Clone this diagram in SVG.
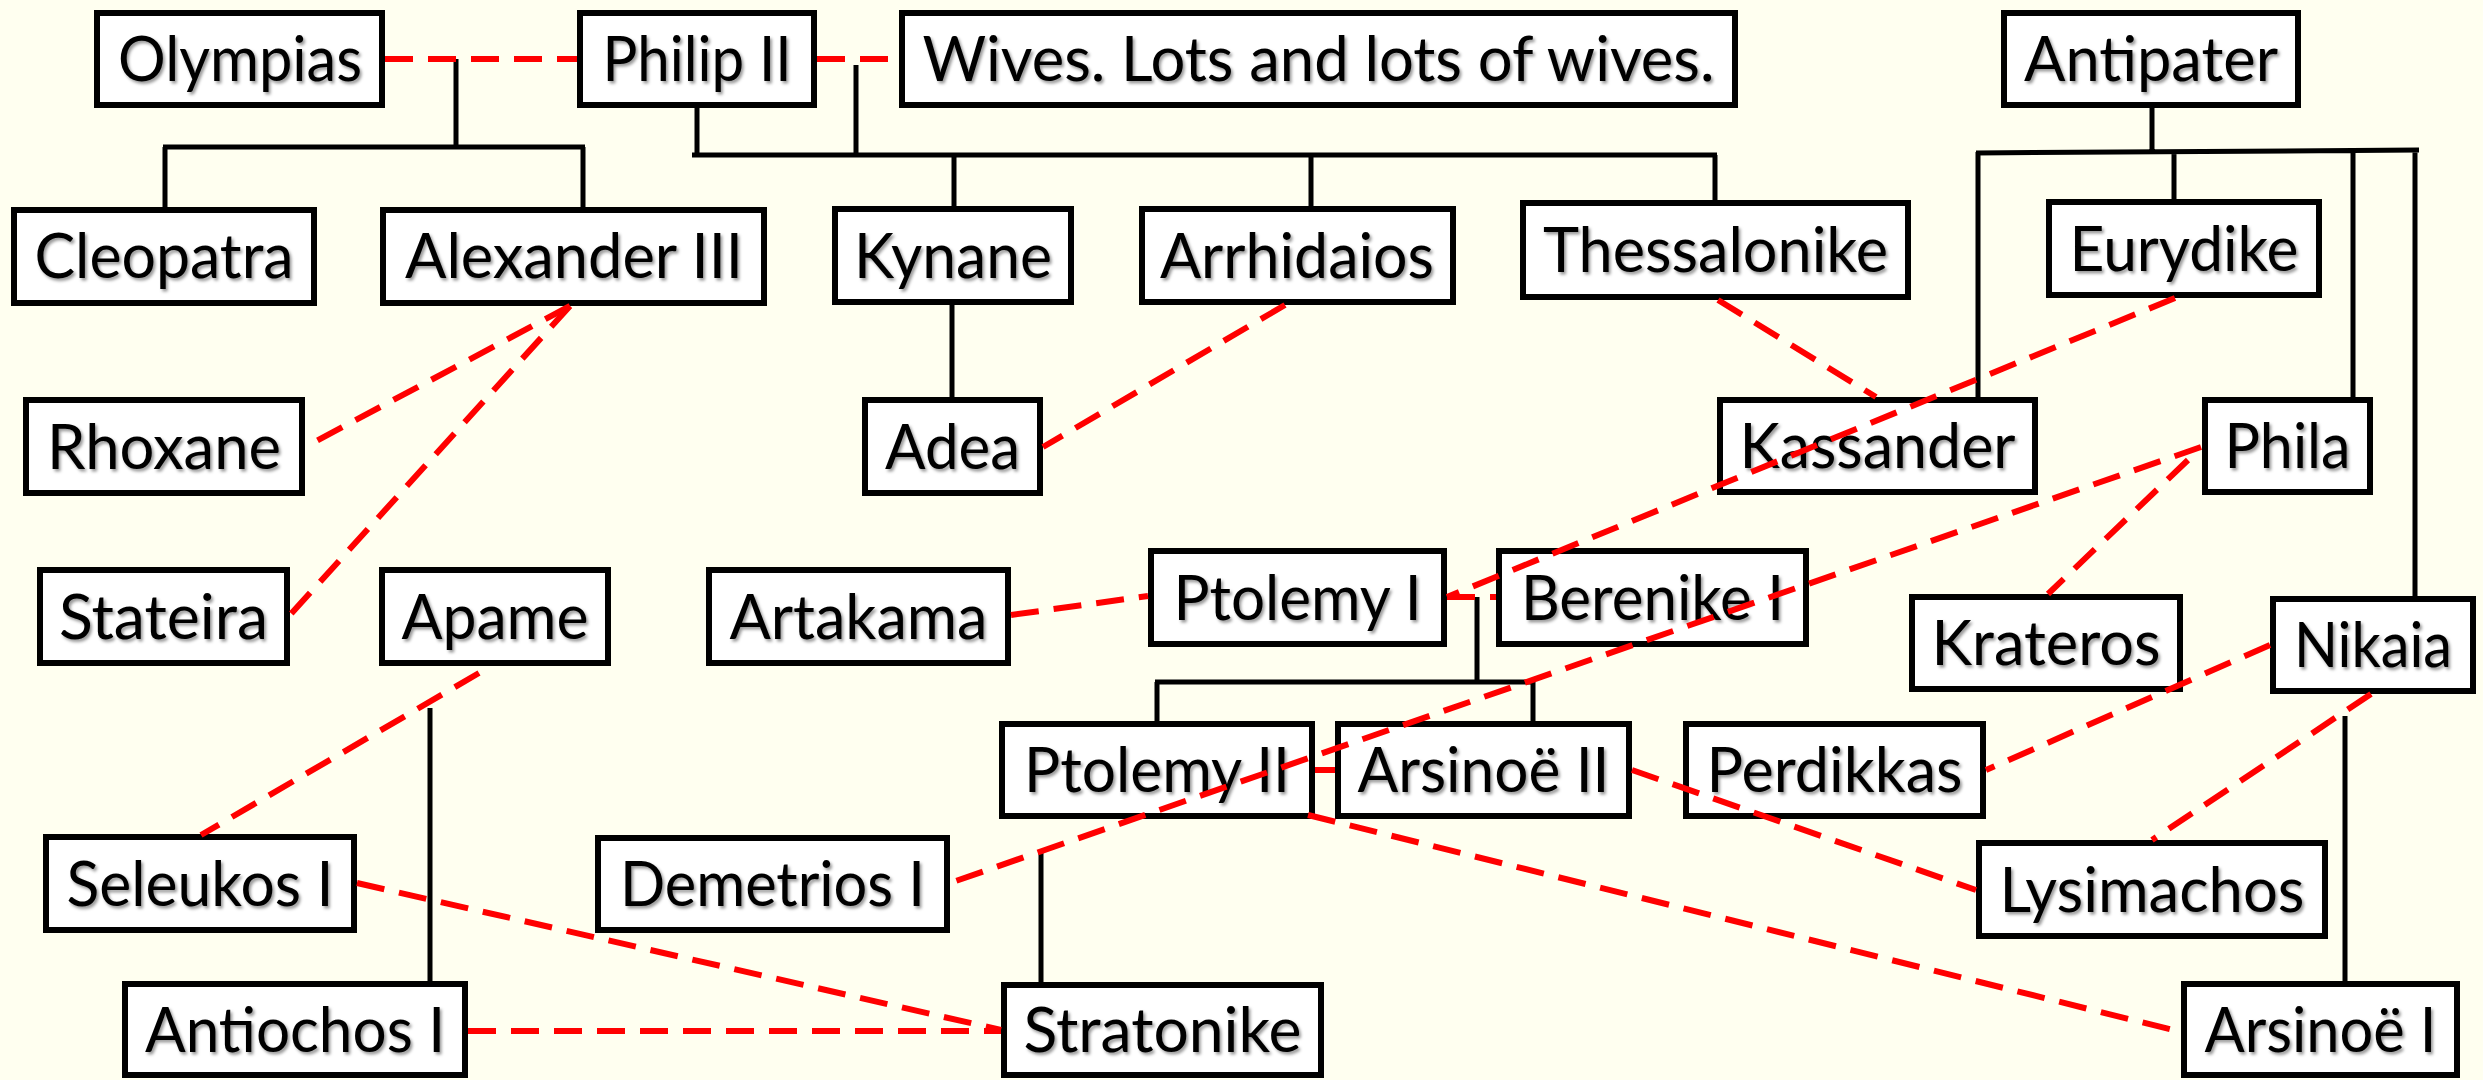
<svg xmlns="http://www.w3.org/2000/svg" width="2483" height="1080" viewBox="0 0 2483 1080">
<style>
.box{fill:#fff;stroke:#000;stroke-width:6}
.lbl{font-family:Lato,"Liberation Sans",sans-serif;font-size:62px;text-anchor:middle;fill:#000;filter:url(#sh)}
.kin{stroke:#000;stroke-width:5;fill:none}
.wed{stroke:#f00;stroke-width:6;stroke-dasharray:28 15;fill:none}
</style>
<defs>
<filter id="sh" x="-5%" y="-20%" width="110%" height="140%">
<feDropShadow dx="2" dy="2.5" stdDeviation="1.5" flood-color="#000" flood-opacity="0.4"/>
</filter>
</defs>
<rect width="2483" height="1080" fill="#fffff0"/>
<g id="nodes">
<g id="olympias"><rect class="box" x="97" y="13" width="285" height="92"/><text class="lbl" x="240" y="81" textLength="244" lengthAdjust="spacingAndGlyphs">Olympias</text></g>
<g id="philip2"><rect class="box" x="580" y="13" width="234" height="92"/><text class="lbl" x="697" y="81" textLength="189" lengthAdjust="spacingAndGlyphs">Philip II</text></g>
<g id="wives"><rect class="box" x="902" y="13" width="833" height="92"/><text class="lbl" x="1318.5" y="81" textLength="792" lengthAdjust="spacingAndGlyphs">Wives. Lots and lots of wives.</text></g>
<g id="antipater"><rect class="box" x="2004" y="13" width="294" height="92"/><text class="lbl" x="2151" y="81" textLength="254" lengthAdjust="spacingAndGlyphs">Antipater</text></g>
<g id="cleopatra"><rect class="box" x="14" y="210" width="300" height="93"/><text class="lbl" x="164" y="278" textLength="259" lengthAdjust="spacingAndGlyphs">Cleopatra</text></g>
<g id="alexander3"><rect class="box" x="383" y="210" width="381" height="93"/><text class="lbl" x="574" y="278" textLength="338" lengthAdjust="spacingAndGlyphs">Alexander III</text></g>
<g id="kynane"><rect class="box" x="835" y="209" width="236" height="93"/><text class="lbl" x="953" y="278" textLength="198" lengthAdjust="spacingAndGlyphs">Kynane</text></g>
<g id="arrhidaios"><rect class="box" x="1142" y="209" width="311" height="93"/><text class="lbl" x="1297" y="278" textLength="274" lengthAdjust="spacingAndGlyphs">Arrhidaios</text></g>
<g id="thessalonike"><rect class="box" x="1523" y="203" width="385" height="94"/><text class="lbl" x="1715.5" y="272" textLength="345" lengthAdjust="spacingAndGlyphs">Thessalonike</text></g>
<g id="eurydike"><rect class="box" x="2049" y="202" width="270" height="93"/><text class="lbl" x="2184" y="270.5" textLength="229" lengthAdjust="spacingAndGlyphs">Eurydike</text></g>
<g id="rhoxane"><rect class="box" x="26" y="400" width="276" height="93"/><text class="lbl" x="164" y="468.5" textLength="234" lengthAdjust="spacingAndGlyphs">Rhoxane</text></g>
<g id="adea"><rect class="box" x="865" y="400" width="175" height="93"/><text class="lbl" x="952.5" y="468.5" textLength="135" lengthAdjust="spacingAndGlyphs">Adea</text></g>
<g id="kassander"><rect class="box" x="1720" y="400" width="315" height="92"/><text class="lbl" x="1877.5" y="468" textLength="276" lengthAdjust="spacingAndGlyphs">Kassander</text></g>
<g id="phila"><rect class="box" x="2205" y="400" width="165" height="92"/><text class="lbl" x="2287.5" y="468" textLength="126" lengthAdjust="spacingAndGlyphs">Phila</text></g>
<g id="stateira"><rect class="box" x="40" y="570" width="247" height="93"/><text class="lbl" x="163.5" y="638.5" textLength="209" lengthAdjust="spacingAndGlyphs">Stateira</text></g>
<g id="apame"><rect class="box" x="382" y="570" width="226" height="93"/><text class="lbl" x="495" y="638.5" textLength="187" lengthAdjust="spacingAndGlyphs">Apame</text></g>
<g id="artakama"><rect class="box" x="709" y="570" width="299" height="93"/><text class="lbl" x="858.5" y="638.5" textLength="258" lengthAdjust="spacingAndGlyphs">Artakama</text></g>
<g id="ptolemy1"><rect class="box" x="1151" y="551" width="293" height="93"/><text class="lbl" x="1297.5" y="619.5" textLength="248" lengthAdjust="spacingAndGlyphs">Ptolemy I</text></g>
<g id="berenike1"><rect class="box" x="1499" y="551" width="307" height="93"/><text class="lbl" x="1652.5" y="619.5" textLength="263" lengthAdjust="spacingAndGlyphs">Berenike I</text></g>
<g id="krateros"><rect class="box" x="1912" y="597" width="268" height="92"/><text class="lbl" x="2046" y="665" textLength="229" lengthAdjust="spacingAndGlyphs">Krateros</text></g>
<g id="nikaia"><rect class="box" x="2273" y="599" width="200" height="92"/><text class="lbl" x="2373" y="667" textLength="158" lengthAdjust="spacingAndGlyphs">Nikaia</text></g>
<g id="ptolemy2"><rect class="box" x="1002" y="724" width="310" height="92"/><text class="lbl" x="1157" y="792" textLength="266" lengthAdjust="spacingAndGlyphs">Ptolemy II</text></g>
<g id="arsinoe2"><rect class="box" x="1338" y="724" width="291" height="92"/><text class="lbl" x="1483.5" y="792" textLength="252" lengthAdjust="spacingAndGlyphs">Arsinoë II</text></g>
<g id="perdikkas"><rect class="box" x="1686" y="724" width="297" height="92"/><text class="lbl" x="1834.5" y="792" textLength="256" lengthAdjust="spacingAndGlyphs">Perdikkas</text></g>
<g id="seleukos1"><rect class="box" x="46" y="837" width="308" height="93"/><text class="lbl" x="200" y="905.5" textLength="267" lengthAdjust="spacingAndGlyphs">Seleukos I</text></g>
<g id="demetrios1"><rect class="box" x="598" y="838" width="349" height="92"/><text class="lbl" x="772.5" y="906" textLength="305" lengthAdjust="spacingAndGlyphs">Demetrios I</text></g>
<g id="lysimachos"><rect class="box" x="1979" y="843" width="346" height="93"/><text class="lbl" x="2152" y="911.5" textLength="305" lengthAdjust="spacingAndGlyphs">Lysimachos</text></g>
<g id="antiochos1"><rect class="box" x="125" y="984" width="340" height="91"/><text class="lbl" x="295" y="1051.5" textLength="300" lengthAdjust="spacingAndGlyphs">Antiochos I</text></g>
<g id="stratonike"><rect class="box" x="1004" y="985" width="317" height="90"/><text class="lbl" x="1162.5" y="1052" textLength="278" lengthAdjust="spacingAndGlyphs">Stratonike</text></g>
<g id="arsinoe1"><rect class="box" x="2184" y="984" width="273" height="91"/><text class="lbl" x="2320.5" y="1051.5" textLength="232" lengthAdjust="spacingAndGlyphs">Arsinoë I</text></g>
</g>
<g id="connectors">
<path class="kin" d="M456 59V147M163 147H585M165 147V207M583 147V207"/>
<path class="kin" d="M697 108V155M692 155H1717M1715 155V200M856 65V155M954 155V206M1311 155V206"/>
<path class="kin" d="M952 305V397"/>
<path class="kin" d="M2152 108V150M1976 153L2419 150M1978 152V397M2174 152V199M2353 152V397M2415 152V596"/>
<path class="kin" d="M1477 597V682M1155 682H1535M1157 682V721M1533 682V721"/>
<path class="kin" d="M430 708V981"/>
<path class="kin" d="M1041 852V982"/>
<path class="kin" d="M2345 716V981"/>
<path class="wed" d="M385 59H577"/>
<path class="wed" d="M817 59H899"/>
<path class="wed" d="M570 306L305 447"/>
<path class="wed" d="M570 306L290 615"/>
<path class="wed" d="M1285 305L1043 447"/>
<path class="wed" d="M1718 300L1876 397"/>
<path class="wed" d="M2175 298L1447 597"/>
<path class="wed" d="M2201 447L950 883"/>
<path class="wed" d="M2188 460L2048 594"/>
<path class="wed" d="M1011 615L1148 596"/>
<path class="wed" d="M1447 597H1496"/>
<path class="wed" d="M479 673L201 835"/>
<path class="wed" d="M2270 645L1986 770"/>
<path class="wed" d="M2371 694L2152 840"/>
<path class="wed" d="M1315 770H1335"/>
<path class="wed" d="M1632 770L1976 890"/>
<path class="wed" d="M1308 815L2181 1032"/>
<path class="wed" d="M357 883L1001 1030"/>
<path class="wed" d="M468 1031H1001"/>
</g>
</svg>
